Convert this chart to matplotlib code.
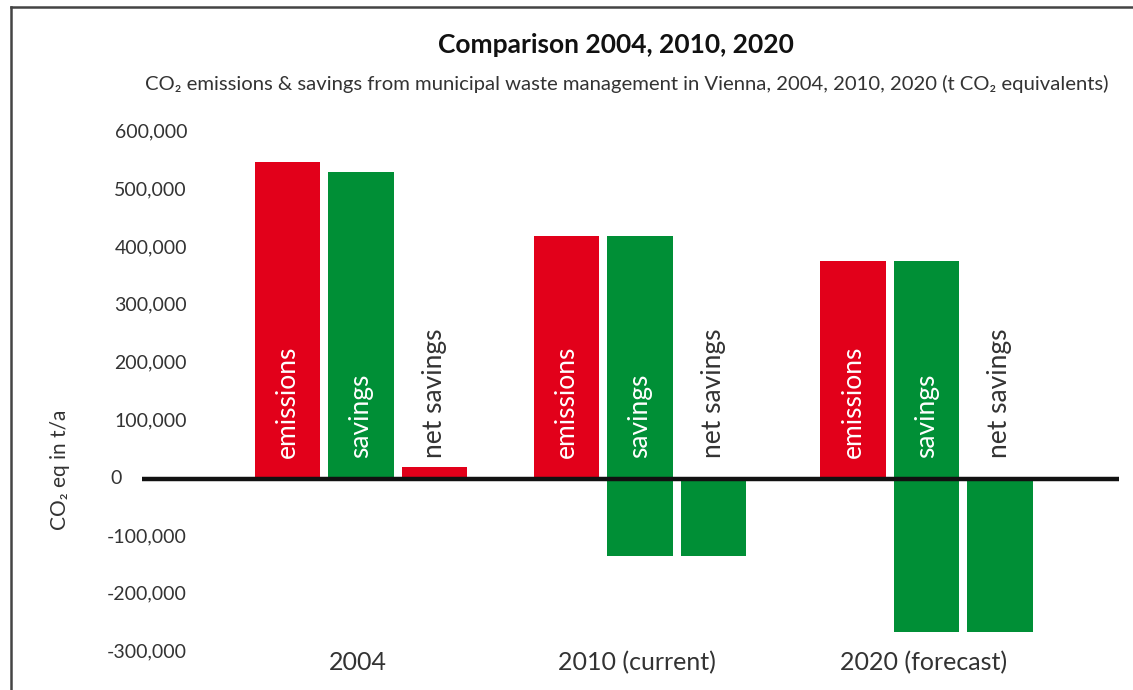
import numpy as np
import matplotlib
matplotlib.use('Agg')
import matplotlib.pyplot as plt
from matplotlib.lines import Line2D

plt.rcParams['font.family'] = ['Lato', 'DejaVu Sans']

# data (t CO2 eq per year)
groups = ['2004', '2010 (current)', '2020 (forecast)']
emissions = [548000, 420000, 376000]
savings_top = [530000, 420000, 376000]
savings_bottom = [0, -133000, -266000]
net_savings = [20000, -133000, -266000]
yticks = [600000, 500000, 400000, 300000, 200000, 100000, 0, -100000, -200000, -300000]

title = 'Comparison 2004, 2010, 2020'
subtitle = 'CO\u2082 emissions & savings from municipal waste management in Vienna, 2004, 2010, 2020 (t CO\u2082 equivalents)'

red = '#e2001a'
green = '#008f36'
grey = '#333333'

W, H = 1133, 690
fig = plt.figure(figsize=(W / 100, H / 100), dpi=100)

# axes placed in pixel terms
ax_l, ax_r, ax_t, ax_b = 142, 1119, 132, 652
ax = fig.add_axes([ax_l / W, 1 - ax_b / H, (ax_r - ax_l) / W, (ax_b - ax_t) / H])
ax.set_ylim(-300000, 600000)
ax.set_xlim(-0.785, 2.717)
ax.axis('off')

group_pos = np.array([0.0, 1.0, 2.027])
bw = 0.235
step = 0.263

ax.bar(group_pos - step, emissions, width=bw, color=red, zorder=2)
ax.bar(group_pos, np.array(savings_top) - np.array(savings_bottom), bottom=savings_bottom,
       width=bw, color=green, zorder=2)
net_colors = [red if v > 0 else green for v in net_savings]
ax.bar(group_pos + step, net_savings, width=bw, color=net_colors, zorder=2)

ax.axhline(0, color='#111111', lw=3.2, zorder=3)

lbl_y = 36000
fs_in = 19
for i, g in enumerate(group_pos):
    ax.text(g - step, lbl_y, 'emissions', rotation=90, ha='center', va='bottom',
            color='white', fontsize=fs_in, zorder=4)
    ax.text(g, lbl_y, 'savings', rotation=90, ha='center', va='bottom',
            color='white', fontsize=fs_in, zorder=4)
    ax.text(g + step, lbl_y, 'net savings', rotation=90, ha='center', va='bottom',
            color=grey, fontsize=fs_in, zorder=4)
    ax.text(g - 0.01, -318000, groups[i], ha='center', va='center', color=grey, fontsize=18)

# y tick labels
for v in yticks:
    ypx = ax_t + (600000 - v) / 900000 * (ax_b - ax_t)
    if v == 0:
        fig.text(110 / W, 1 - ypx / H, '0', ha='left', va='center', color=grey, fontsize=14)
    else:
        fig.text(187 / W, 1 - ypx / H, '{:,}'.format(v), ha='right', va='center',
                 color=grey, fontsize=14)

fig.text(60 / W, 1 - 470 / H, 'CO\u2082 eq in t/a', rotation=90, ha='center', va='center',
         color=grey, fontsize=15)

fig.text(616 / W, 1 - 45 / H, title, ha='center', va='center', fontsize=19,
         fontweight='bold', color='#111111')
fig.text(627 / W, 1 - 84 / H, subtitle, ha='center', va='center', fontsize=14.6, color=grey)

# frame lines (left and top)
fig.add_artist(Line2D([11 / W, 11 / W], [0, 1 - 7 / H], color='#444444', lw=1.8,
                      transform=fig.transFigure))
fig.add_artist(Line2D([11 / W, 1], [1 - 7 / H, 1 - 7 / H], color='#444444', lw=1.8,
                      transform=fig.transFigure))

fig.savefig('out.png', dpi=100)
